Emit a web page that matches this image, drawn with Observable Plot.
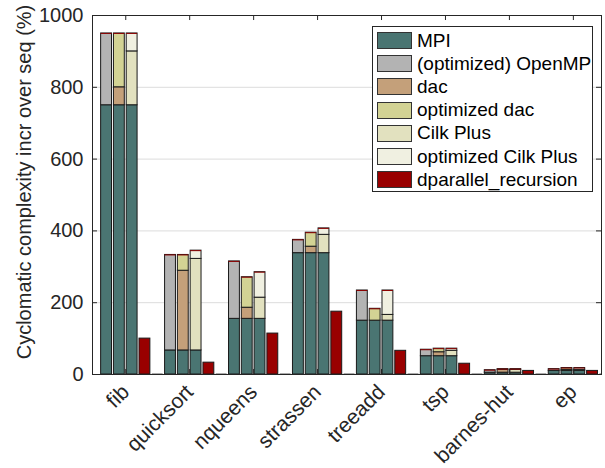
<!DOCTYPE html>
<html><head><meta charset="utf-8">
<script src="https://cdn.jsdelivr.net/npm/d3@7"></script>
<script src="https://cdn.jsdelivr.net/npm/@observablehq/plot@0.6"></script>
<style>
body{margin:0;background:#fff;font-family:"Liberation Sans",Arial,sans-serif}
#wrap{position:relative;width:605px;height:468px}
#legend{position:absolute;left:372px;top:26px;width:219px;height:162px;border:1px solid #262626;background:#fff;font-size:19px;color:#000;box-sizing:content-box;padding-top:2px}
.row{display:flex;align-items:center;height:23.2px;white-space:nowrap}
.sw{width:33px;height:15px;border:1px solid #333;margin-left:4px;margin-right:5px;flex:none}
</style></head>
<body><div id="wrap"></div>
<script>
const benchmarks = ["fib","quicksort","nqueens","strassen","treeadd","tsp","barnes-hut","ep"];
const seriesNames = ["MPI","(optimized) OpenMP","dac","optimized dac","Cilk Plus","optimized Cilk Plus","dparallel_recursion"];
const seriesColors = ["#4a7572","#b3b3b3","#c4a07a","#d3d394","#e2e1bf","#f0f0e1","#990000"];
const yLabel = "Cyclomatic complexity incr over seq (%)";
// segment heights (% increase over seq)
const mpi     = [750, 67, 155, 338, 150, 51, 5, 10];
const openmp  = [200, 266, 160, 37, 84, 18, 7, 5];
const dac     = [50, 222, 31, 18, 0, 11, 8, 3];
const optDac  = [150, 44, 85, 39, 33, 10, 2, 5];
const cilk    = [150, 255, 59, 51, 16, 15, 8, 3];
const optCilk = [50, 23, 71, 18, 68, 6, 2, 5];
const dpr     = [100, 33, 114, 175, 66, 30, 10, 10];
const yTicks = [0, 200, 400, 600, 800, 1000];

const seriesValues = [mpi, openmp, dac, optDac, cilk, optCilk, dpr];
const barSeries = [[0, 1], [0, 2, 3], [0, 4, 5], [6]];
const pitch = 0.2, half = 0.085;

const rows = [], tops = [], spacers = [];
benchmarks.forEach((b, i) => {
  barSeries.forEach((sers, k) => {
    const xc = i + 1 + (k - 1.5) * pitch;
    let acc = 0;
    sers.forEach(s => {
      const v = seriesValues[s][i];
      rows.push({bench: b, xc, series: s, y1: acc, y2: acc + v});
      acc += v;
    });
    if (k < 3) tops.push({xc, top: acc});
  });
  spacers.push({xc: i + 1 + 2.5 * pitch});
});

const xDom = [0.48, 8.44];
const tx = 5 / 64, ty = 14;

const plot = Plot.plot({
  width: 605, height: 468,
  marginLeft: 92, marginRight: 4, marginTop: 15, marginBottom: 94,
  style: {fontFamily: '"Liberation Sans", Arial, sans-serif', fontSize: "20px", color: "#262626", background: "#fff"},
  x: {type: "linear", domain: xDom},
  y: {domain: [0, 1000]},
  marks: [
    Plot.gridY(yTicks.filter(d => d > 0 && d < 1000), {stroke: "#dcdcdc", strokeOpacity: 1}),
    Plot.rect(rows, {x1: d => d.xc - half, x2: d => d.xc + half, y1: "y1", y2: "y2",
      fill: d => seriesColors[d.series], stroke: "#1a1a1a", strokeWidth: 1}),
    Plot.ruleY(tops, {y: "top", x1: d => d.xc - half, x2: d => d.xc + half, stroke: "#8b0000", strokeWidth: 1}),
    Plot.ruleY(spacers, {y: 0, x1: d => d.xc - half, x2: d => d.xc + half, stroke: "#555", strokeWidth: 2, clip: true}),
    Plot.frame({stroke: "#262626"}),
    Plot.ruleX(d3.range(1, 9), {y1: 0, y2: ty, stroke: "#262626"}),
    Plot.ruleX(d3.range(1, 9), {y1: 1000 - ty, y2: 1000, stroke: "#262626"}),
    Plot.ruleY(yTicks.slice(1, -1), {x1: xDom[0], x2: xDom[0] + tx, stroke: "#262626"}),
    Plot.ruleY(yTicks.slice(1, -1), {x1: xDom[1] - tx, x2: xDom[1], stroke: "#262626"}),
    Plot.axisX({ticks: d3.range(1, 9), tickFormat: d => benchmarks[d - 1], tickRotate: -45,
      tickSize: 0, tickPadding: 14, fontSize: 21, label: null}),
    Plot.axisY({ticks: yTicks, tickFormat: d => String(d), tickSize: 0, tickPadding: 9, fontSize: 20, label: null}),
    Plot.text([yLabel], {text: d => d, frameAnchor: "left", textAnchor: "middle", rotate: -90, dx: -68, dy: -13,
      fontSize: 20, fill: "#262626"})
  ]
});
const wrap = document.getElementById("wrap");
wrap.appendChild(plot);

const legend = document.createElement("div");
legend.id = "legend";
seriesNames.forEach((n, i) => {
  const r = document.createElement("div");
  r.className = "row";
  const sw = document.createElement("span");
  sw.className = "sw";
  sw.style.background = seriesColors[i];
  const t = document.createElement("span");
  t.textContent = n;
  r.appendChild(sw); r.appendChild(t);
  legend.appendChild(r);
});
wrap.appendChild(legend);
</script>
</body></html>
